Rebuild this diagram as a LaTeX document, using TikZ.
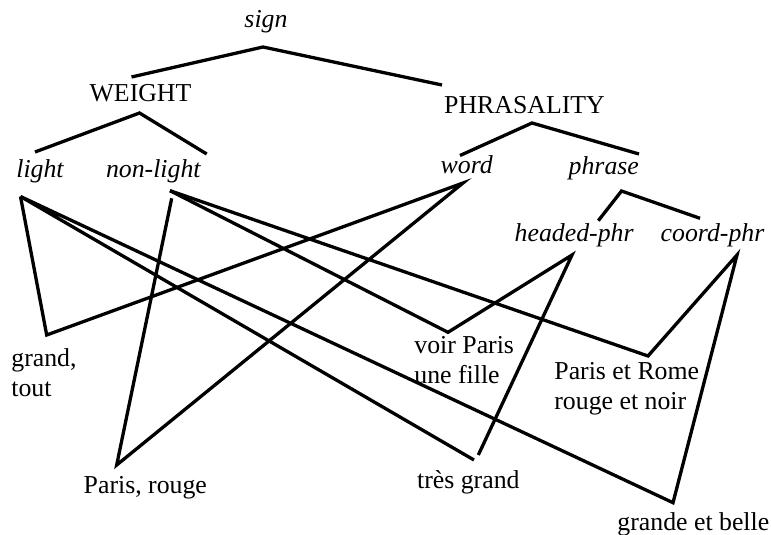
\documentclass[tikz,border=0pt]{standalone}
\usepackage{fontspec}
\setmainfont{Liberation Serif}
\usetikzlibrary{calc}

\begin{document}
\begin{tikzpicture}[x=0.5pt,y=-0.5pt,
  lbl/.style={inner sep=0pt,anchor=base,font=\fontsize{12.9}{15}\selectfont},
  typ/.style={lbl,font=\fontsize{12.9}{15}\selectfont\itshape},
  word/.style={lbl,anchor=base west,align=left},
  link/.style={line width=1.65pt}]
  \useasboundingbox (0,0) rectangle (771,535);
  % types
  \node[typ] (sign) at (266,28) {sign};
  \node[lbl] (weight) at (140.5,102) {WEIGHT};
  \node[lbl] (phras) at (524.5,113) {PHRASALITY};
  \node[typ] (light) at (40,177) {light};
  \node[typ] (nonlight) at (153.3,177) {non-light};
  \node[typ] (wrd) at (466.7,174) {word};
  \node[typ] (phrase) at (603.8,174.5) {phrase};
  \node[typ] (headed) at (574.2,242) {headed-phr};
  \node[typ] (coord) at (712.5,242) {coord-phr};
  % words (base = last line)
  \node[word] (grandtout) at (11,396) {grand,\\tout};
  \node[word] (voirparis) at (414,383.3) {voir Paris\\une fille};
  \node[word] (parisrome) at (554,409.3) {Paris et Rome\\rouge et noir};
  \node[word] (parisrouge) at (83.3,493.3) {Paris, rouge};
  \node[word] (tresgrand) at (416.7,488.3) {très grand};
  \node[word] (grandebelle) at (617,530.7) {grande et belle};
  % hierarchy
  \draw[link] ($(weight.base)+(-9,-25)$)--($(sign.base)+(-3,19)$)--($(phras.base)+(-82.5,-28)$);
  \draw[link] ($(light.base)+(-5,-25)$)--($(weight.base)+(-1,11)$)--($(nonlight.base)+(53.4,-23)$);
  \draw[link] ($(wrd.base)+(-6.7,-18.5)$)--($(phras.base)+(7.5,10)$)--($(phrase.base)+(35.2,-20.5)$);
  \draw[link] ($(headed.base)+(24.1,-21.3)$)--($(phrase.base)+(17.7,16.5)$)--($(coord.base)+(-12.5,-23.7)$);
  % cross-classification
  \draw[link] ($(light.base)+(-19.5,19.5)$)--($(grandtout.base west)+(35.7,-61)$)--($(wrd.base)+(-3.7,9)$)--($(parisrouge.base west)+(33.4,-28.3)$)--($(nonlight.base)+(18.4,21.3)$);
  \draw[link] ($(nonlight.base)+(16.7,13.7)$)--($(voirparis.base west)+(34,-51)$)--($(headed.base)+(-2.2,13)$)--($(tresgrand.base west)+(61.6,-33.3)$);
  \draw[link] ($(tresgrand.base west)+(57.3,-28.3)$)--($(light.base)+(-19.5,19.5)$)--($(grandebelle.base west)+(56,-28)$)--($(coord.base)+(24.5,13)$)--($(parisrome.base west)+(94,-53.3)$)--($(nonlight.base)+(16.7,13.7)$);
\end{tikzpicture}
\end{document}
